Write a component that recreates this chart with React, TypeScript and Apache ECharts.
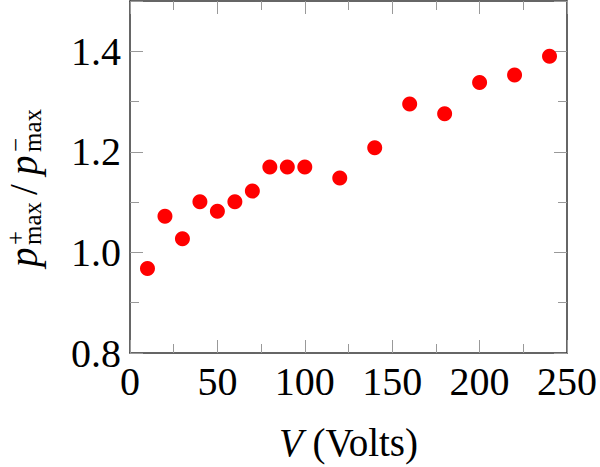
import React, { useEffect, useRef } from "react";
import * as echarts from "echarts";

const voltages = [10, 20, 30, 40, 50, 60, 70, 80, 90, 100, 120, 140, 160, 180, 200, 220, 240];
const ratios = [0.968, 1.072, 1.027, 1.101, 1.082, 1.101, 1.122, 1.17, 1.17, 1.17, 1.148, 1.208, 1.295, 1.276, 1.338, 1.353, 1.39];
const yTickLabels = ["0.8", "1.0", "1.2", "1.4"];
const xTitleVar = "V";
const xTitleUnit = " (Volts)";

const FONT = "'Liberation Serif', 'DejaVu Serif', serif";
const AXIS_COLOR = "#333";
const TICK_COLOR = "#999";

export default function App() {
  const ref = useRef<HTMLDivElement>(null);
  useEffect(() => {
    if (!ref.current) return;
    const chart = echarts.init(ref.current, null, { renderer: "svg" });
    const data = voltages.map((v, i) => [v, ratios[i]]);
    const mainSize = 39;
    const scriptSize = 25;
    const mainC = 18;
    const subC = 27;
    const supC = 10;
    const txt = (x: number, y: number, text: string, size: number, lh: number, italic = false) => ({
      type: "text",
      x,
      y,
      style: {
        text,
        fontSize: size,
        lineHeight: lh,
        fontFamily: FONT,
        fontStyle: italic ? "italic" : "normal",
        fill: "#000",
        align: "left",
        verticalAlign: "middle",
      },
    });
    const xBase = (pos: string) => ({
      type: "value",
      position: pos,
      min: 0,
      max: 250,
      interval: 50,
      axisLine: { show: true, onZero: false, lineStyle: { color: AXIS_COLOR, width: 1.5 } },
      axisTick: { show: true, inside: true, length: 13, lineStyle: { color: TICK_COLOR, width: 1 } },
      minorTick: { show: true, splitNumber: 2, length: 9, lineStyle: { color: TICK_COLOR, width: 1 } },
      splitLine: { show: false },
      minorSplitLine: { show: false },
    });
    const yBase = (pos: string, interval: number, len: number, line: boolean) => ({
      type: "value",
      position: pos,
      min: 0.8,
      max: 1.5,
      interval,
      axisLine: { show: line, onZero: false, lineStyle: { color: AXIS_COLOR, width: 1.5 } },
      axisTick: { show: true, inside: true, length: len, lineStyle: { color: TICK_COLOR, width: 1 } },
      axisLabel: { show: false },
      splitLine: { show: false },
    });
    chart.setOption({
      animation: false,
      grid: { left: 130, right: 27, top: 1, bottom: 105 },
      xAxis: [
        {
          ...xBase("bottom"),
          axisLabel: {
            show: true,
            fontSize: 40,
            fontFamily: FONT,
            color: "#000",
            margin: 8,
          },
          name: `{i|${xTitleVar}}${xTitleUnit}`,
          nameLocation: "middle",
          nameGap: 70,
          nameTextStyle: {
            fontSize: 39,
            fontFamily: FONT,
            color: "#000",
            rich: { i: { fontSize: 39, fontFamily: FONT, fontStyle: "italic", color: "#000" } },
          },
        },
        { ...xBase("top"), axisLabel: { show: false } },
      ],
      yAxis: [
        {
          ...yBase("left", 0.2, 13, true),
          axisLabel: {
            show: true,
            fontSize: 40,
            fontFamily: FONT,
            color: "#000",
            margin: 9,
            formatter: (v: number) => {
              const s = v.toFixed(1);
              return yTickLabels.includes(s) ? s : "";
            },
          },
        },
        yBase("right", 0.2, 13, true),
        yBase("left", 0.1, 9, false),
        yBase("right", 0.1, 9, false),
      ],
      graphic: [
        {
          type: "group",
          x: 5,
          y: 267,
          rotation: Math.PI / 2,
          children: [
            txt(0, mainC, "p", mainSize, 30, true),
            txt(22, supC, "+", scriptSize, 16),
            txt(22, subC, "max", scriptSize, 18),
            txt(72, mainC, "/", mainSize, 30),
            txt(92, mainC, "p", mainSize, 30, true),
            txt(115, supC, "\u2212", scriptSize, 16),
            txt(115, subC, "max", scriptSize, 18),
          ],
        },
      ],
      series: [
        {
          type: "scatter",
          xAxisIndex: 0,
          yAxisIndex: 0,
          symbol: "circle",
          symbolSize: 15,
          itemStyle: { color: "#ff0000", opacity: 1 },
          data,
        },
      ],
    });
    return () => chart.dispose();
  }, []);
  return (
    <div
      ref={ref}
      style={{ position: "fixed", left: 0, top: 0, width: 600, height: 467, background: "#fff" }}
    />
  );
}
